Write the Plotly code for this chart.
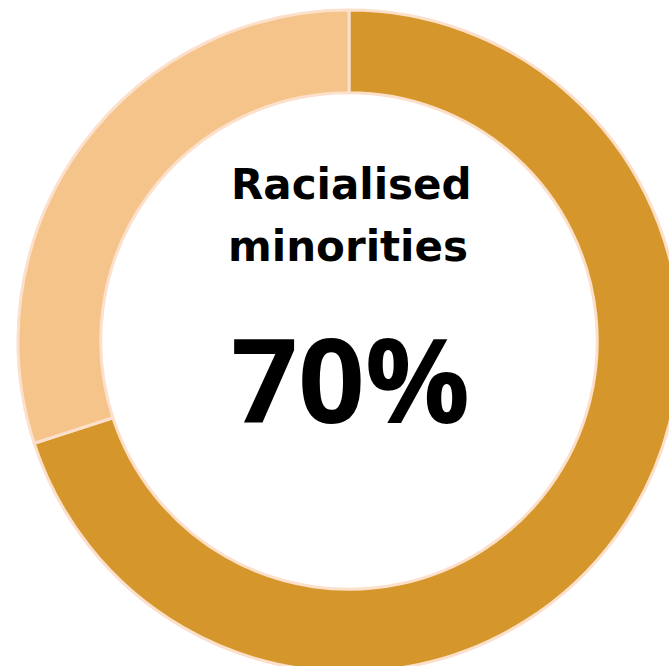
import plotly.graph_objects as go

# Share of staff by group
labels = ["Racialised minorities", "Other"]
values = [70, 30]
colors = ["#D5972B", "#F5C48A"]

headline_label = "Racialised minorities"
headline_value = f"{values[0]}%"

W, H = 698, 682
L, T = 18, 10
SIDE = 662


def py(y):
    """Pixel row to paper y."""
    return 1 - (y - T) / SIDE


def px(x):
    return (x - L) / SIDE


fig = go.Figure(
    go.Pie(
        labels=labels,
        values=values,
        hole=0.75,
        sort=False,
        direction="clockwise",
        rotation=0,
        marker=dict(colors=colors, line=dict(color="#FCE0CB", width=3)),
        textinfo="none",
        hoverinfo="skip",
        showlegend=False,
        domain=dict(x=[0, 1], y=[0, 1]),
    )
)

words = headline_label.split(" ")
fig.add_annotation(
    text=f"<b>{words[0]}</b>", x=px(351), y=py(185), xref="paper", yref="paper",
    showarrow=False, font=dict(family="DejaVu Sans", size=42, color="#000000"),
    xanchor="center", yanchor="middle",
)
fig.add_annotation(
    text=f"<b>{words[1]}</b>", x=px(348), y=py(247), xref="paper", yref="paper",
    showarrow=False, font=dict(family="DejaVu Sans", size=42, color="#000000"),
    xanchor="center", yanchor="middle",
)
fig.add_annotation(
    text=f"<b>{headline_value}</b>", x=px(350), y=py(377), xref="paper", yref="paper",
    showarrow=False, font=dict(family="Open Sans", size=117, color="#000000"),
    xanchor="center", yanchor="middle",
)

fig.update_layout(
    width=W,
    height=H,
    margin=dict(l=L, r=W - L - SIDE, t=T, b=H - T - SIDE, pad=0),
    paper_bgcolor="#FFFFFF",
    plot_bgcolor="#FFFFFF",
)

fig.write_html(
    "out.html",
    config={"displayModeBar": False},
    post_script="document.documentElement.style.overflow='hidden';document.body.style.overflow='hidden';document.body.style.margin='0';",
)
